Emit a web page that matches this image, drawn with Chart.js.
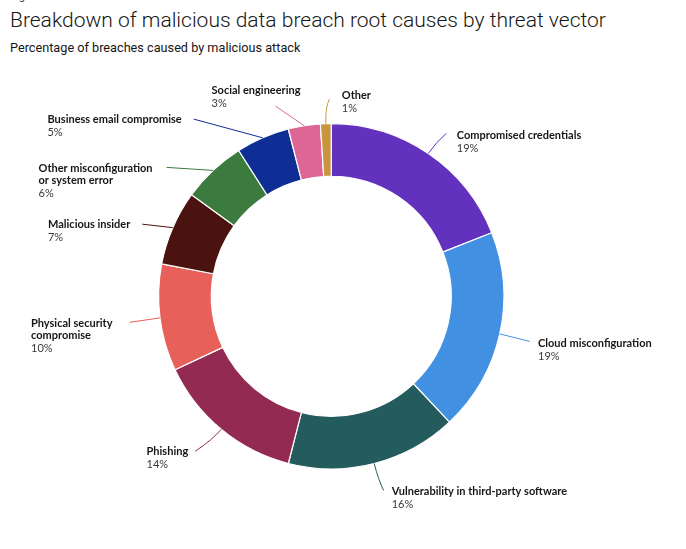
<!DOCTYPE html>
<html lang="en">
<head>
  <meta charset="UTF-8">
  <title>Malicious data breach root causes</title>
  <script src="https://cdn.jsdelivr.net/npm/chart.js"></script>
  <style>
    html, body {
      margin: 0;
      background: #fff;
    }
    body {
      width: 686px;
      height: 549px;
      position: relative;
      overflow: hidden;
      font-family: 'Roboto', sans-serif;
    }
    .fig {
      position: absolute;
      left: 10px;
      top: -10px;
      font-size: 11px;
      color: #333;
    }
    h1 {
      position: absolute;
      left: 10px;
      top: 8px;
      margin: 0;
      font-size: 21px;
      font-weight: 300;
      color: #161616;
      white-space: nowrap;
    }
    .sub {
      position: absolute;
      left: 10px;
      top: 40px;
      font-size: 12.7px;
      color: #161616;
      white-space: nowrap;
    }
    .wrap {
      position: absolute;
      left: 0;
      top: 0;
      width: 686px;
      height: 549px;
    }
  </style>
</head>
<body>
  <div class="fig">Figure 9</div>
  <h1>Breakdown of malicious data breach root causes by threat vector</h1>
  <div class="sub">Percentage of breaches caused by malicious attack</div>
  <div class="wrap"><canvas id="donut"></canvas></div>

  <script>
    const categories = [
      'Compromised credentials',
      'Cloud misconfiguration',
      'Vulnerability in third-party software',
      'Phishing',
      'Physical security\ncompromise',
      'Malicious insider',
      'Other misconfiguration\nor system error',
      'Business email compromise',
      'Social engineering',
      'Other'
    ];
    const shares = [19, 19, 16, 14, 10, 7, 6, 5, 3, 1];
    const sliceColors = [
      '#6232be', '#4290e1', '#245b5c', '#922a51', '#e8605a',
      '#4b1310', '#3b7c3e', '#0e2e96', '#dd6696', '#c9963f'
    ];

    // leader end offset from the arc (dx, dy), text offset from leader end (tx, ty),
    // side 'r' = text block starts at tx, 'l' = block ends at tx; bend = curvature
    const leaderLayout = [
      { dx: 18, dy: -20, tx: 10.5, ty: 1.7, side: 'r', bend: 0.5 },
      { dx: 30, dy: 7.5, tx: 8.3, ty: 1.7, side: 'r', bend: 0 },
      { dx: 9.5, dy: 27, tx: 8, ty: 1, side: 'r', bend: 0.6 },
      { dx: -26, dy: 22, tx: -7, ty: 0, side: 'l', bend: 0.4 },
      { dx: -30.5, dy: 4.5, tx: -17, ty: 1, side: 'l', bend: 0 },
      { dx: -30.5, dy: -3.5, tx: -12, ty: 0, side: 'l', bend: 0 },
      { dx: -46.5, dy: -3, tx: -14, ty: 0.7, side: 'l', bend: 0 },
      { dx: -69, dy: -18.7, tx: -12, ty: 0, side: 'l', bend: 0 },
      { dx: -28.7, dy: -19.6, tx: -64, ty: -15.3, side: 'r', bend: 0 },
      { dx: 3.7, dy: -24.6, tx: 12.3, ty: -3.3, side: 'r', bend: 0.7 }
    ];

    const NAME_FONT = 'bold 11px Lato, sans-serif';
    const PCT_FONT = '11px Lato, sans-serif';

    const leaderPlugin = {
      id: 'leaders',
      afterDatasetsDraw(chart) {
        const ctx = chart.ctx;
        const meta = chart.getDatasetMeta(0);
        ctx.save();
        meta.data.forEach((arc, i) => {
          const p = arc.getProps(['x', 'y', 'startAngle', 'endAngle', 'outerRadius'], true);
          const mid = (p.startAngle + p.endAngle) / 2;
          const ax = p.x + Math.cos(mid) * p.outerRadius;
          const ay = p.y + Math.sin(mid) * p.outerRadius;
          const L = leaderLayout[i];
          const ex = ax + L.dx, ey = ay + L.dy;
          const len = Math.hypot(L.dx, L.dy) * L.bend;
          const cx = ax + Math.cos(mid) * len, cy = ay + Math.sin(mid) * len;

          ctx.strokeStyle = sliceColors[i];
          ctx.lineWidth = 1;
          ctx.beginPath();
          ctx.moveTo(ax, ay);
          if (L.bend > 0) ctx.quadraticCurveTo(cx, cy, ex, ey);
          else ctx.lineTo(ex, ey);
          ctx.stroke();

          const lines = categories[i].split('\n');
          const pct = shares[i] + '%';
          ctx.font = NAME_FONT;
          let w = 0;
          lines.forEach(t => { w = Math.max(w, ctx.measureText(t).width); });
          ctx.font = PCT_FONT;
          w = Math.max(w, ctx.measureText(pct).width);
          const left = L.side === 'r' ? ex + L.tx : ex + L.tx - w;
          let y = ey + L.ty;
          ctx.textAlign = 'left';
          ctx.textBaseline = 'middle';
          ctx.font = NAME_FONT;
          ctx.fillStyle = '#161616';
          lines.forEach((t, k) => {
            ctx.fillText(t, left, y);
            if (k < lines.length - 1) y += 12;
          });
          y += 13;
          ctx.font = PCT_FONT;
          ctx.fillStyle = '#393939';
          ctx.fillText(pct, left, y);
        });
        ctx.restore();
      }
    };

    new Chart(document.getElementById('donut'), {
      type: 'doughnut',
      data: {
        labels: categories,
        datasets: [{
          data: shares,
          backgroundColor: sliceColors,
          borderColor: '#ffffff',
          borderWidth: 1.2
        }]
      },
      options: {
        responsive: true,
        maintainAspectRatio: false,
        animation: false,
        cutout: '69.5%',
        events: [],
        layout: {
          padding: { left: 158, top: 123, right: 181.5, bottom: 79.5 }
        },
        plugins: {
          legend: { display: false },
          tooltip: { enabled: false }
        }
      },
      plugins: [leaderPlugin]
    });
  </script>
</body>
</html>
